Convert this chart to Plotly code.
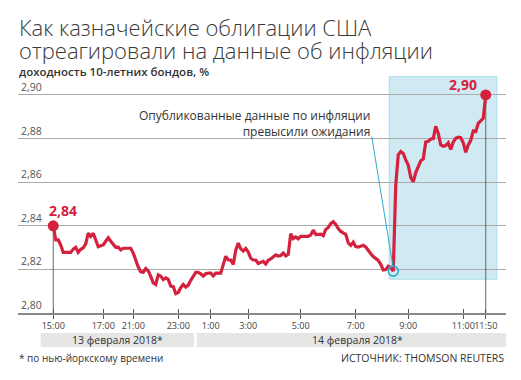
import plotly.graph_objects as go

# ---------------- data ----------------
title_lines = ["Как казначейские облигации США", "отреагировали на данные об инфляции"]
subtitle = "доходность 10-летних бондов, %"

# 10-year Treasury yield, %, sampled at equal steps along the time axis
yields = [
    2.8400, 2.8335, 2.8335, 2.8311, 2.8278, 2.8278, 2.8278, 2.8278, 2.8293, 2.8301,
    2.8278, 2.8292, 2.8299, 2.8317, 2.8366, 2.8351, 2.8366, 2.8335, 2.8304, 2.8308,
    2.8312, 2.8329, 2.8345, 2.8329, 2.8312, 2.8301, 2.8302, 2.8289, 2.8297, 2.8297,
    2.8297, 2.8297, 2.8275, 2.8241, 2.8211, 2.8189, 2.8187, 2.8204, 2.8193, 2.8168,
    2.8138, 2.8131, 2.8175, 2.8169, 2.8153, 2.8161, 2.8154, 2.8123, 2.8121, 2.8089,
    2.8094, 2.8116, 2.8131, 2.8119, 2.8128, 2.8150, 2.8171, 2.8186, 2.8186, 2.8180,
    2.8169, 2.8180, 2.8183, 2.8183, 2.8170, 2.8183, 2.8183, 2.8183, 2.8222, 2.8260,
    2.8243, 2.8243, 2.8222, 2.8288, 2.8321, 2.8294, 2.8284, 2.8296, 2.8280, 2.8251,
    2.8243, 2.8243, 2.8227, 2.8231, 2.8237, 2.8225, 2.8242, 2.8248, 2.8256, 2.8267,
    2.8261, 2.8264, 2.8275, 2.8262, 2.8269, 2.8364, 2.8341, 2.8349, 2.8340, 2.8351,
    2.8351, 2.8351, 2.8351, 2.8358, 2.8380, 2.8360, 2.8361, 2.8362, 2.8355, 2.8383,
    2.8392, 2.8410, 2.8419, 2.8406, 2.8387, 2.8374, 2.8367, 2.8361, 2.8321, 2.8310,
    2.8325, 2.8305, 2.8302, 2.8305, 2.8311, 2.8303, 2.8285, 2.8272, 2.8259, 2.8252,
    2.8241, 2.8223, 2.8197, 2.8199, 2.8214, 2.8209, 2.8192, 2.8587, 2.8725, 2.8741,
    2.8732, 2.8702, 2.8679, 2.8622, 2.8602, 2.8644, 2.8673, 2.8698, 2.8706, 2.8784,
    2.8787, 2.8798, 2.8800, 2.8856, 2.8824, 2.8771, 2.8765, 2.8768, 2.8781, 2.8750,
    2.8784, 2.8801, 2.8806, 2.8804, 2.8781, 2.8737, 2.8771, 2.8792, 2.8835, 2.8832,
    2.8870, 2.8883, 2.8893, 2.9000,
]
tick_index = [0, 20, 32, 50, 63, 78, 99, 121, 142, 164, 173]
tick_text = ["15:00", "17:00", "21:00", "23:00", "1:00", "3:00", "5:00",
             "7:00", "9:00", "11:00", "11:50"]
y_ticks = [2.80, 2.82, 2.84, 2.86, 2.88, 2.90]
date_labels = ["13 февраля 2018*", "14 февраля 2018*"]
release_index = 136
callout_lines = ["Опубликованные данные по инфляции", "превысили ожидания"]
footnote = "* по нью-йоркскому времени"
source = "ИСТОЧНИК: THOMSON REUTERS"

# ---------------- styles / geometry ----------------
OFF = 8                      # page body margin in the browser
W, H = 521 - OFF, 380 - OFF
PL, PR, PT, PB = 18, 506, 76, 313   # plot area in page pixels
ML, MR, MT, MB = PL - OFF, W - (PR - OFF), PT - OFF, H - (PB - OFF)
PLOT_H = PB - PT
PLOT_W = PR - PL
RED = "#d4213d"
CYAN = "#2badd2"
FONT = "Open Sans"
TXT = "#333333"
x = list(range(len(yields)))
last = len(yields) - 1
xr = [-14.1, 181.1]
yr = [2.80, 2.9087]


def py(pix):  # page pixel row -> paper y
    return (PB - pix) / PLOT_H


def px(pix):  # page pixel column -> paper x
    return (pix - PL) / PLOT_W


def fmt(v):
    return f"{v:.2f}".replace(".", ",")


fig = go.Figure()

# drop lines under first / last points
for i in (0, last):
    fig.add_trace(go.Scatter(x=[x[i], x[i]], y=[yields[i], yr[0]], mode="lines",
                             line=dict(color="#666666", width=1), hoverinfo="skip",
                             showlegend=False))

fig.add_trace(go.Scatter(x=x, y=yields, mode="lines",
                         line=dict(color=RED, width=3.2), hoverinfo="skip",
                         showlegend=False))
fig.add_trace(go.Scatter(x=[x[0], x[last]], y=[yields[0], yields[last]], mode="markers",
                         marker=dict(color=RED, size=11), hoverinfo="skip",
                         showlegend=False))
fig.add_trace(go.Scatter(x=[x[release_index]], y=[yields[release_index]], mode="markers",
                         marker=dict(symbol="circle-open", color=CYAN, size=10,
                                     line=dict(width=1.6, color=CYAN)),
                         hoverinfo="skip", showlegend=False))
# overlay axis for inside tick half
fig.add_trace(go.Scatter(x=[x[0]], y=[yields[0]], xaxis="x2", mode="markers",
                         marker=dict(opacity=0), hoverinfo="skip", showlegend=False))

shapes = [
    # highlighted period after the data release
    dict(type="rect", xref="x", yref="y", x0=134.4, x1=177.4, y0=2.8155, y1=2.9084,
         fillcolor="#d0eaf3", line=dict(color="#a9dcea", width=1), layer="below"),
    # callout leader
    dict(type="line", xref="x", yref="y", x0=127.4, y0=2.8809, x1=135.9, y1=2.8212,
         line=dict(color=CYAN, width=1)),
    # date bands
    dict(type="rect", xref="x", yref="paper", x0=-5.0, x1=56.4, y0=py(347), y1=py(333),
         fillcolor="#e6e6e6", line=dict(width=0), layer="below"),
    dict(type="rect", xref="x", yref="paper", x0=57.4, x1=xr[1], y0=py(347), y1=py(333),
         fillcolor="#e6e6e6", line=dict(width=0), layer="below"),
]

annotations = [
    dict(text=title_lines[0], xref="paper", yref="paper", x=px(17), y=py(27.5),
         xanchor="left", yanchor="middle", showarrow=False,
         font=dict(family=FONT, size=22, color="#3a3a3a", weight=300)),
    dict(text=title_lines[1], xref="paper", yref="paper", x=px(17), y=py(50),
         xanchor="left", yanchor="middle", showarrow=False,
         font=dict(family=FONT, size=22, color="#3a3a3a", weight=300)),
    dict(text=subtitle, xref="paper", yref="paper", x=px(17), y=py(71),
         xanchor="left", yanchor="middle", showarrow=False,
         font=dict(family=FONT, size=11.5, color=TXT, weight=600)),
    dict(text=fmt(yields[0]), xref="x", yref="y", x=x[0], y=yields[0], xanchor="left",
         yanchor="middle", xshift=-6, yshift=15, showarrow=False,
         font=dict(family=FONT, size=14, color=RED, weight=700)),
    dict(text=fmt(yields[last]), xref="x", yref="y", x=x[last], y=yields[last],
         xanchor="right", yanchor="middle", xshift=-7, yshift=10, showarrow=False,
         font=dict(family=FONT, size=14, color=RED, weight=700)),
    dict(text="<br>".join(callout_lines), xref="x", yref="y", x=127.4, y=2.8867,
         xanchor="right", yanchor="middle", align="right", showarrow=False,
         font=dict(family=FONT, size=12, color=TXT)),
    dict(text=date_labels[0], xref="x", yref="paper", x=25.7, y=py(340), xanchor="center",
         yanchor="middle", showarrow=False, font=dict(family=FONT, size=10.5, color=TXT)),
    dict(text=date_labels[1], xref="x", yref="paper", x=121.5, y=py(340), xanchor="center",
         yanchor="middle", showarrow=False, font=dict(family=FONT, size=10.5, color=TXT)),
    dict(text=footnote, xref="paper", yref="paper", x=px(17), y=py(358), xanchor="left",
         yanchor="middle", showarrow=False, font=dict(family=FONT, size=10, color=TXT)),
    dict(text=source, xref="paper", yref="paper", x=1, y=py(358), xanchor="right",
         yanchor="middle", showarrow=False, font=dict(family=FONT, size=10.5, color=TXT)),
]
# y tick labels sit above their gridlines
for v in y_ticks:
    annotations.append(dict(text=fmt(v), xref="paper", yref="y", x=px(19), y=v,
                            xanchor="left", yanchor="middle", yshift=8, showarrow=False,
                            font=dict(family=FONT, size=10.5, color="#555555")))

fig.update_layout(
    width=W, height=H, margin=dict(l=ML, r=MR, t=MT, b=MB, autoexpand=False),
    paper_bgcolor="white", plot_bgcolor="white", separators=", ",
    showlegend=False, hovermode=False,
    shapes=shapes, annotations=annotations,
    xaxis=dict(range=xr, tickmode="array", tickvals=tick_index, ticktext=tick_text,
               tickangle=0, automargin=False,
               ticks="outside", ticklen=4, tickcolor="#555555", tickwidth=1,
               showline=True, linecolor="#888888", linewidth=1.5, showgrid=False,
               zeroline=False, tickfont=dict(family=FONT, size=9.1, color="#444444")),
    xaxis2=dict(range=xr, overlaying="x", side="bottom", tickmode="array",
                tickvals=tick_index, ticks="inside", ticklen=4, tickcolor="#555555",
                tickwidth=1, showticklabels=False, showgrid=False, zeroline=False,
                showline=False, automargin=False),
    yaxis=dict(range=yr, tickmode="array", tickvals=y_ticks,
               showgrid=True, gridcolor="#aaaaaa", gridwidth=1, zeroline=False,
               showline=False, ticks="", showticklabels=False, automargin=False),
)

fig.write_html("out.html", config={"displayModeBar": False, "staticPlot": True})
